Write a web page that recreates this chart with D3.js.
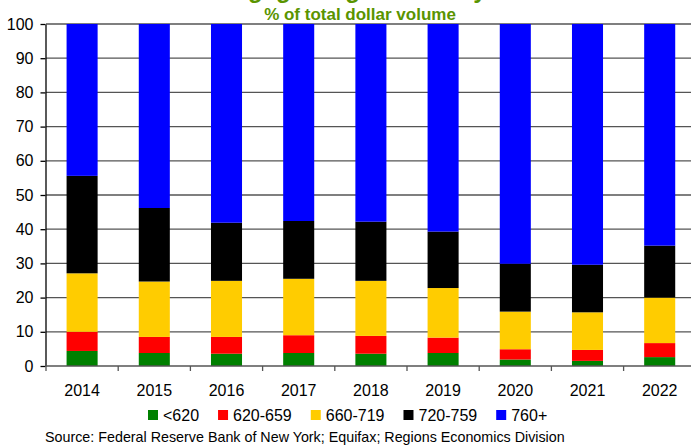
<!DOCTYPE html>
<html lang="en">
<head>
<meta charset="UTF-8">
<title>Mortgage Originations by Credit Score</title>
<script src="https://d3js.org/d3.v7.min.js"></script>
<style>
  body { margin: 0; background: #fff; }
  svg { font-family: "Liberation Sans", Arial, sans-serif; }
</style>
</head>
<body>
<svg width="691" height="446"></svg>
<script>
// data: share of total dollar volume by credit score band (%)
const years = ["2014", "2015", "2016", "2017", "2018", "2019", "2020", "2021", "2022"]
const bands = ["<620", "620-659", "660-719", "720-759", "760+"]
const under620   = [4.4, 3.8, 3.6, 3.8, 3.6, 3.8, 1.9, 1.5, 2.6]
const s620to659  = [5.6, 4.7, 4.9, 5.2, 5.2, 4.5, 3.0, 3.2, 4.1]
const s660to719  = [17.1, 16.2, 16.4, 16.5, 16.1, 14.5, 11.0, 11.0, 13.3]
const s720to759  = [28.5, 21.5, 17.0, 16.9, 17.3, 16.5, 14.0, 13.9, 15.2]
const over760    = [44.4, 53.8, 58.1, 57.6, 57.8, 60.7, 70.1, 70.4, 64.8]
const yTicks = [0, 10, 20, 30, 40, 50, 60, 70, 80, 90, 100]
const bandColors = ["#008000", "#ff0000", "#ffcc00", "#000000", "#0000ff"]

const series = [under620, s620to659, s660to719, s720to759, over760]
const table = years.map((y, i) => {
    let row = {year: y}
    bands.forEach((b, j) => row[b] = series[j][i])
    return row
})

const svg = d3.select("svg")
const plotLeft = 46, plotTop = 24, plotBottom = 366
const step = 72.2
const green = "#5a9400"

const x = d3.scaleBand().domain(years)
    .range([plotLeft, plotLeft + step * years.length])
    .paddingInner(0.57).paddingOuter(0.285)
const y = d3.scaleLinear().domain([0, 100]).range([plotBottom, plotTop])
const color = d3.scaleOrdinal().domain(bands).range(bandColors)

// title (cut off at the top edge, as in the original) and subtitle
svg.append("text").attr("x", 196).attr("y", -2)
    .attr("font-size", 24).attr("font-weight", "bold").attr("fill", green)
    .text("Mortgage Originations by Credit Score")
svg.append("text").attr("x", 360).attr("y", 20).attr("text-anchor", "middle")
    .attr("font-size", 17).attr("font-weight", "bold").attr("fill", green)
    .text("% of total dollar volume")

// gridlines
svg.append("g").selectAll("line")
    .data(yTicks.filter(d => d > 0))
    .enter().append("line")
    .attr("x1", plotLeft).attr("x2", 691)
    .attr("y1", d => y(d)).attr("y2", d => y(d))
    .attr("stroke", "#555").attr("stroke-width", 1.3)

// stacked bars
const stacked = d3.stack().keys(bands)(table)
svg.append("g").selectAll("g")
    .data(stacked)
    .enter().append("g")
    .attr("fill", d => color(d.key))
    .selectAll("rect")
    .data(d => d)
    .enter().append("rect")
    .attr("x", d => x(d.data.year))
    .attr("width", x.bandwidth())
    .attr("y", d => y(d[1]))
    .attr("height", d => y(d[0]) - y(d[1]))

// y axis
const yAxis = svg.append("g").attr("transform", `translate(${plotLeft - 0.5},0)`)
    .call(d3.axisLeft(y).tickValues(yTicks).tickSize(5).tickPadding(7).tickSizeOuter(0))
yAxis.select(".domain").attr("stroke", "#000").attr("stroke-width", 1.3)
yAxis.selectAll(".tick line").attr("stroke", "#000").attr("stroke-width", 1.3)
yAxis.selectAll("text").attr("font-size", 16).attr("fill", "#000")
    .attr("font-family", "Liberation Sans, Arial, sans-serif")

// x axis line, boundary ticks and year labels
svg.append("line").attr("x1", plotLeft - 0.5).attr("x2", 691)
    .attr("y1", plotBottom).attr("y2", plotBottom)
    .attr("stroke", "#555").attr("stroke-width", 1.6)
const bounds = years.map(yr => x(yr) - x.step() * x.paddingInner() / 2)
svg.append("g").selectAll("line")
    .data(bounds)
    .enter().append("line")
    .attr("x1", d => d).attr("x2", d => d)
    .attr("y1", plotBottom).attr("y2", plotBottom + 5)
    .attr("stroke", "#555").attr("stroke-width", 1.3)
svg.append("g").selectAll("text")
    .data(years)
    .enter().append("text")
    .attr("x", d => x(d) + x.bandwidth() / 2)
    .attr("y", 396)
    .attr("text-anchor", "middle")
    .attr("font-size", 16)
    .text(d => d)

// legend
const legend = svg.append("g").attr("transform", "translate(148,410)")
let lx = 0
bands.forEach((b, i) => {
    let item = legend.append("g").attr("transform", `translate(${lx},0)`)
    item.append("rect").attr("width", 10).attr("height", 10).attr("fill", color(b))
    let t = item.append("text").attr("x", 15).attr("y", 11)
        .attr("font-size", 16).text(b)
    lx += 15 + t.node().getComputedTextLength() + 19
})

// source
svg.append("text").attr("x", 45).attr("y", 442)
    .attr("font-size", 14.3)
    .text("Source: Federal Reserve Bank of New York; Equifax; Regions Economics Division")
</script>
</body>
</html>
